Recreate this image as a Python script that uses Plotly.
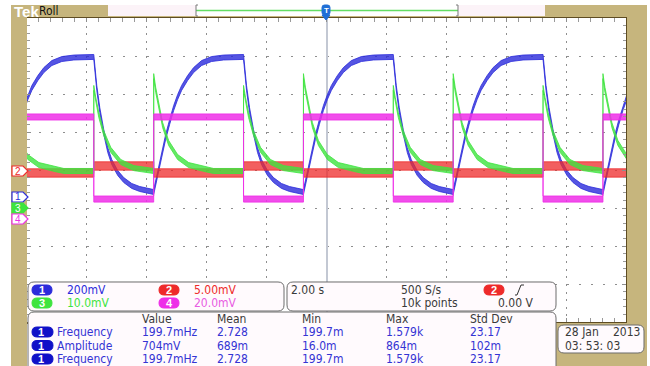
import plotly.graph_objects as go

# ---------------- page geometry (pixels of the 650x366 screenshot) ----------------
W, H = 650, 366
X0, X1, Y0, Y1 = 27, 626, 18, 322          # graticule rectangle


def px(x):
    return (x - X0) / (X1 - X0)


def py(y):
    return (Y1 - y) / (Y1 - Y0)


# ---------------- data ----------------
# time axis: 10 div x 2.00 s/div, centre = 0 s
rise_edges = [-10.77, -5.77, -0.77, 4.23, 9.23]     # ch4 rising edges (s)
fall_edges = [-7.77, -2.77, 2.23, 7.23]             # ch4 falling edges (s)

ch_labels = ["1", "2", "3", "4"]
ch_scale = [0.2, 5.0, 10.0, 20.0]                   # ch1 V/div, ch2-4 mV/div
ch_scale_text = ["200mV", "5.00mV", "10.0mV", "20.0mV"]
ch_pos = [-0.71, 0.0, -1.0, -1.29]                  # ground marker (div)
ch_noise = [0.013, 0.55, 0.66, 1.6]                 # half height of noise band (units)

# ch1 (V): response after a rising edge and after a falling edge (offset s, value)
ch1_rise_dt = [0, 0.133, 0.267, 0.4, 0.533, 0.667, 0.8, 0.933, 1.133, 1.333, 1.6, 1.933, 2.333, 3.0]
ch1_rise_v = [0.026, 0.121, 0.221, 0.316, 0.395, 0.468, 0.526, 0.574, 0.626, 0.668, 0.705, 0.726, 0.734, 0.737]
ch1_fall_dt = [0, 0.1, 0.2, 0.333, 0.467, 0.6, 0.8, 1.0, 1.267, 1.533, 2.0]
ch1_fall_v = [0.737, 0.574, 0.458, 0.342, 0.247, 0.184, 0.126, 0.089, 0.058, 0.042, 0.026]

# ch2 (mV): level while ch4 is high / low
ch2_level_mv = [-0.39, 0.53]

# ch3 (mV): spike + decay after each edge
ch3_rise_dt = [0, 0, 0.067, 0.167, 0.3, 0.5, 0.8, 1.167, 1.667, 2.0]
ch3_rise_mv = [9.74, 34.7, 31.1, 26.8, 21.8, 17.1, 13.4, 11.3, 10.3, 9.74]
ch3_fall_dt = [0, 0, 0.067, 0.167, 0.333, 0.567, 0.9, 1.333, 2.0]
ch3_fall_mv = [9.74, 31.6, 28.4, 24.5, 19.7, 15.3, 12.1, 10.5, 9.74]

# ch4 (mV): square wave levels high / low
ch4_level_mv = [53.7, 10.5]

# measurement table
meas_header = ["Value", "Mean", "Min", "Max", "Std Dev"]
meas_names = ["Frequency", "Amplitude", "Frequency"]
meas_rows = [
    ["199.7mHz", "2.728", "199.7m", "1.579k", "23.17"],
    ["704mV", "689m", "16.0m", "864m", "102m"],
    ["199.7mHz", "2.728", "199.7m", "1.579k", "23.17"],
]
timebase_text = ["2.00 s", "500 S/s", "10k points", "0.00 V"]
trigger_source = "2"
date_text = ["28 Jan", "2013", "03: 53: 03"]

# ---------------- styles ----------------
FONT = "Liberation Sans Narrow, DejaVu Sans Condensed, Arial Narrow, sans-serif"
TAN = "#c6b57d"
BROWN = "#5e4c22"
ch_color = ["#2b2bdb", "#ee2a2a", "#3ee43e", "#ee2ee8"]
ch_text_color = ["#2b2bdb", "#ee2a2a", "#3ee43e", "#e85ce2"]
ch_alpha = [0.8, 0.75, 0.8, 0.85]
MEAS_BLUE = "#3434d4"
GREY_TXT = "#3a3a3a"


def rgba(hexcol, a):
    h = hexcol.lstrip("#")
    return "rgba(%d,%d,%d,%.2f)" % (int(h[0:2], 16), int(h[2:4], 16), int(h[4:6], 16), a)


# ---------------- assemble traces from the read values ----------------
def build_ch1():
    t, v = [], []
    for i, r in enumerate(rise_edges):
        t += [r + d for d in ch1_rise_dt]
        v += ch1_rise_v
        if i < len(fall_edges):
            f = fall_edges[i]
            t += [f + d for d in ch1_fall_dt]
            v += ch1_fall_v
    return t, v


def build_ch3():
    t, v = [], []
    for i, r in enumerate(rise_edges):
        t += [r + d for d in ch3_rise_dt]
        v += ch3_rise_mv
        if i < len(fall_edges):
            f = fall_edges[i]
            t += [f + d for d in ch3_fall_dt]
            v += ch3_fall_mv
    return t, v


def build_square(levels):
    hi, lo = levels
    t, v = [], []
    for i, r in enumerate(rise_edges):
        if i > 0:
            t.append(r)
            v.append(lo)
        t.append(r)
        v.append(hi)
        if i < len(fall_edges):
            f = fall_edges[i]
            t += [f, f]
            v += [hi, lo]
    t.append(11.0)
    v.append(hi)
    return t, v


series = {
    0: build_ch1(),
    1: build_square(ch2_level_mv),
    2: build_ch3(),
    3: build_square(ch4_level_mv),
}

fig = go.Figure()
# base (grid) subplot
fig.add_trace(go.Scatter(x=[], y=[], showlegend=False, hoverinfo="skip"))

draw_order = [2, 1, 3, 0]
for i in draw_order:
    t, v = series[i]
    n = ch_noise[i]
    xs = t + t[::-1]
    ys = [a + n for a in v] + [a - n for a in v[::-1]]
    fig.add_trace(go.Scatter(
        x=xs, y=ys, mode="lines", fill="toself",
        fillcolor=rgba(ch_color[i], ch_alpha[i]),
        line=dict(color=rgba(ch_color[i], ch_alpha[i]), width=1),
        yaxis="y%d" % (i + 2), showlegend=False, hoverinfo="skip"))

# ---------------- axes ----------------
GRID = "#8e8e8e"
layout_axes = dict(
    xaxis=dict(range=[-10, 10], dtick=2, tick0=0, showticklabels=False,
               showgrid=True, gridcolor=GRID, gridwidth=1, griddash="2px,5.6px",
               zeroline=True, zerolinecolor="#c3c8d3", zerolinewidth=2,
               ticks="inside", ticklen=4, tickcolor="#8e8e8e",
               minor=dict(dtick=0.4, ticks="inside", ticklen=3, tickcolor="#9a9a9a", showgrid=False),
               showline=True, linecolor=BROWN, linewidth=2, mirror="allticks", fixedrange=True),
    yaxis=dict(range=[-4, 4], dtick=1, tick0=0, showticklabels=False,
               showgrid=True, gridcolor=GRID, gridwidth=1, griddash="2px,10px",
               zeroline=False,
               ticks="inside", ticklen=4, tickcolor="#8e8e8e",
               minor=dict(dtick=0.2, ticks="inside", ticklen=3, tickcolor="#9a9a9a", showgrid=False),
               showline=True, linecolor=BROWN, linewidth=2, mirror="allticks", fixedrange=True),
)
for i in range(4):
    s, p = ch_scale[i], ch_pos[i]
    layout_axes["yaxis%d" % (i + 2)] = dict(
        overlaying="y", anchor="x", range=[(-4 - p) * s, (4 - p) * s],
        visible=False, showgrid=False, zeroline=False, fixedrange=True)

# ---------------- decorations ----------------
shapes = []
ann = []


def rect(x0, y0, x1, y1, fill, line=None, lw=0):
    shapes.append(dict(type="rect", xref="paper", yref="paper",
                       x0=px(x0), x1=px(x1), y0=py(y1), y1=py(y0),
                       fillcolor=fill, line=dict(color=line or fill, width=lw), layer="above"))


def path(points, fill, line=None, lw=1, closed=True):
    d = "M " + " L ".join("%.5f,%.5f" % (px(x), py(y)) for x, y in points)
    if closed:
        d += " Z"
    shapes.append(dict(type="path", xref="paper", yref="paper", path=d,
                       fillcolor=fill if closed else None,
                       line=dict(color=line or fill, width=lw), layer="above"))


def rrect(x0, y0, x1, y1, r, fill, line=None, lw=1):
    def P(x, y):
        return "%.5f,%.5f" % (px(x), py(y))
    d = ("M %s L %s Q %s %s L %s Q %s %s L %s Q %s %s L %s Q %s %s Z" % (
        P(x0 + r, y0), P(x1 - r, y0), P(x1, y0), P(x1, y0 + r), P(x1, y1 - r),
        P(x1, y1), P(x1 - r, y1), P(x0 + r, y1), P(x0, y1), P(x0, y1 - r),
        P(x0, y0 + r), P(x0, y0), P(x0 + r, y0)))
    shapes.append(dict(type="path", xref="paper", yref="paper", path=d,
                       fillcolor=fill, line=dict(color=line or fill, width=lw), layer="above"))


def txt(x, y, s, color, size=12, anchor="left", bold=False, family=FONT):
    ann.append(dict(xref="paper", yref="paper", x=px(x), y=py(y), text=("<b>%s</b>" % s) if bold else s,
                    xanchor=anchor, yanchor="middle", showarrow=False,
                    font=dict(family=family, size=size, color=color)))


# tan frame
rect(11, 5, 27, 366, TAN)          # left
rect(11, 5, 647, 17, TAN)          # top
rect(627, 5, 647, 366, TAN)        # right
rect(556, 323, 647, 366, TAN)      # bottom right

# top status bar
rect(108, 5, 545, 16, "#fcf3f8")
rect(196, 5, 458, 16, "#ffffff")
path([(196, 10.5), (458, 10.5)], None, "#63dd63", 1.5, closed=False)
path([(198, 5), (196, 5), (196, 16), (198, 16)], None, "#7a7a7a", 1, closed=False)
path([(456, 5), (458, 5), (458, 16), (456, 16)], None, "#7a7a7a", 1, closed=False)
txt(12, 11, "Tek", "#ffffff", 15, bold=True, family="Liberation Sans, Arial, sans-serif")
txt(37, 11, "Roll", "#111111", 12)

# trigger-position marker
rrect(322, 5, 330, 15, 2.5, "#1f6fd6")
path([(322, 15), (330, 15), (326, 20)], "#1f6fd6")
txt(326, 10.5, "T", "#ffffff", 8, anchor="center", bold=True, family="Liberation Sans, sans-serif")

# channel ground markers on the left
for i in range(4):
    yc = (Y0 + Y1) / 2 - ch_pos[i] * (Y1 - Y0) / 8
    if i == 1:
        yc += 1
    filled = (i == 2)
    path([(12, yc - 5), (23, yc - 5), (28, yc), (23, yc + 5), (12, yc + 5)],
         ch_color[i] if filled else "#ffffff", ch_color[i], 1.2)
    txt(18, yc, ch_labels[i], "#ffffff" if filled else ch_color[i], 10, anchor="center",
        family="Liberation Sans, sans-serif")

# bottom read-out boxes
BOX_FILL = "#fffafd"
BOX_LINE = "#6c6c6c"
rrect(28, 282, 284, 311, 6, BOX_FILL, BOX_LINE)
rrect(287, 282, 556, 311, 6, BOX_FILL, BOX_LINE)
rrect(28, 312, 556, 372, 6, BOX_FILL, BOX_LINE)
rrect(558, 325, 644, 353, 6, BOX_FILL, BOX_LINE)

# channel scale box
pill_pos = [(32, 290), (159, 290), (32, 303), (159, 303)]
for i in range(4):
    x, y = pill_pos[i]
    rrect(x, y - 5, x + 20, y + 5, 5, ch_color[i])
    txt(x + 10, y, ch_labels[i], "#ffffff", 11, anchor="center", bold=True,
        family="Liberation Sans, sans-serif")
    txt(x + 33, y, ch_scale_text[i], ch_text_color[i], 12)

# time base / trigger box
txt(289, 290, timebase_text[0], GREY_TXT, 12)
txt(399, 290, timebase_text[1], GREY_TXT, 12)
txt(399, 303, timebase_text[2], GREY_TXT, 12)
rrect(484, 285, 504, 295, 5, ch_color[1])
txt(494, 290, trigger_source, "#ffffff", 11, anchor="center", bold=True, family="Liberation Sans, sans-serif")
path([(515, 295), (517, 295), (521, 285), (524, 285)], None, "#333333", 1, closed=False)
txt(496, 303, timebase_text[3], GREY_TXT, 12)

# measurement table
col_x = [140, 215, 300, 384, 468]
for j, h in enumerate(meas_header):
    txt(col_x[j], 319, h, GREY_TXT, 12)
row_y = [332, 345.5, 359]
for r in range(3):
    y = row_y[r]
    rrect(32, y - 5, 53, y + 5, 5, "#1010c8")
    txt(41, y, "1", "#ffffff", 11, anchor="center", bold=True, family="Liberation Sans, sans-serif")
    txt(55, y, meas_names[r], MEAS_BLUE, 12)
    for j, val in enumerate(meas_rows[r]):
        txt(col_x[j], y, val, MEAS_BLUE, 12)

# date box
txt(563, 332, date_text[0], GREY_TXT, 12)
txt(642, 332, date_text[1], GREY_TXT, 12, anchor="right")
txt(563, 346, date_text[2], GREY_TXT, 12)

fig.update_layout(
    width=W, height=H, autosize=False,
    margin=dict(l=X0, r=W - X1, t=Y0, b=H - Y1, pad=0),
    paper_bgcolor="#ffffff", plot_bgcolor="#ffffff",
    showlegend=False, shapes=shapes, annotations=ann,
    **layout_axes,
)
fig.write_html("out.html", config={"displayModeBar": False})
